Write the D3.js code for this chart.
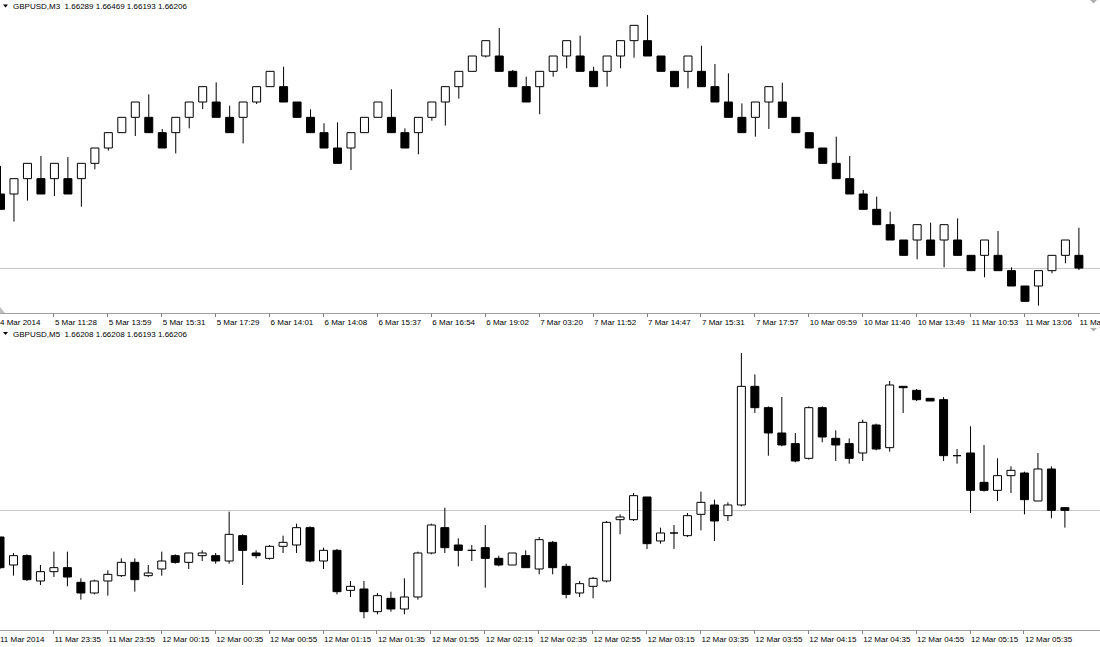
<!DOCTYPE html>
<meta charset="utf-8">
<head>
	<title>GBPUSD M3 / M5</title>
</head>

<style>
  body {
    margin: 0;
    background: #fff;
  }
  svg {
    display: block;
    font-family: "Liberation Sans", Arial, sans-serif;
    font-size: 8px;
  }
  .wick {
    stroke: #000;
    stroke-width: 1px;
  }
  .body {
    stroke: #000;
    stroke-width: 1px;
  }
  .body.up { fill: #fff; }
  .body.down { fill: #000; }
  .bid {
    stroke: #c8c8c8;
    stroke-width: 1px;
  }
  .axisline {
    stroke: #a0a0a0;
    stroke-width: 1px;
  }
  .tick {
    stroke: #808080;
    stroke-width: 1px;
  }
  .title {
    white-space: pre;
  }
</style>

<body>
  <svg width="1100" height="647"></svg>

	<script src="https://cdn.jsdelivr.net/npm/d3@7"></script>

	<script>

    // GBPUSD,M3 (upper chart)
    var m3Open = [1.66689,1.66689,1.66789,1.66789,1.66789,1.66789,1.66789,1.66889,1.66989,1.67089,
      1.67189,1.67189,1.67089,1.67089,1.67189,1.67289,1.67289,1.67189,1.67189,1.67289,
      1.67389,1.67389,1.67289,1.67189,1.67089,1.66989,1.66989,1.67089,1.67189,1.67189,
      1.67089,1.67089,1.67189,1.67289,1.67389,1.67489,1.67589,1.67589,1.67489,1.67389,
      1.67389,1.67489,1.67589,1.67589,1.67489,1.67489,1.67589,1.67689,1.67689,1.67589,
      1.67489,1.67489,1.67489,1.67389,1.67289,1.67189,1.67189,1.67289,1.67289,1.67189,
      1.67089,1.66989,1.66889,1.66789,1.66689,1.66589,1.66489,1.66389,1.66389,1.66389,
      1.66389,1.66389,1.66289,1.66289,1.66289,1.66189,1.66089,1.66089,1.66189,1.66289,
      1.66289];
    var m3High = [1.66872,1.66789,1.66889,1.66937,1.66889,1.66930,1.66889,1.66989,1.67089,1.67189,
      1.67289,1.67339,1.67113,1.67189,1.67289,1.67389,1.67417,1.67265,1.67289,1.67389,
      1.67489,1.67519,1.67289,1.67241,1.67150,1.67156,1.67089,1.67189,1.67289,1.67372,
      1.67117,1.67189,1.67289,1.67389,1.67489,1.67589,1.67689,1.67772,1.67498,1.67454,
      1.67489,1.67589,1.67689,1.67722,1.67519,1.67589,1.67689,1.67789,1.67856,1.67589,
      1.67489,1.67589,1.67656,1.67537,1.67476,1.67280,1.67289,1.67389,1.67415,1.67189,
      1.67089,1.66989,1.67063,1.66937,1.66715,1.66672,1.66574,1.66389,1.66489,1.66502,
      1.66489,1.66530,1.66289,1.66389,1.66448,1.66211,1.66089,1.66189,1.66289,1.66389,
      1.66469];
    var m3Low = [1.66589,1.66509,1.66646,1.66689,1.66676,1.66689,1.66606,1.66850,1.66972,1.67089,
      1.67067,1.67089,1.66989,1.66954,1.67117,1.67243,1.67189,1.67089,1.67019,1.67276,
      1.67389,1.67289,1.67189,1.67089,1.66989,1.66889,1.66846,1.67089,1.67189,1.67089,
      1.66989,1.66948,1.67167,1.67135,1.67311,1.67489,1.67580,1.67489,1.67389,1.67289,
      1.67209,1.67454,1.67509,1.67489,1.67389,1.67389,1.67509,1.67578,1.67589,1.67489,
      1.67389,1.67378,1.67389,1.67289,1.67189,1.67089,1.67063,1.67113,1.67189,1.67089,
      1.66989,1.66889,1.66789,1.66689,1.66589,1.66489,1.66389,1.66289,1.66263,1.66289,
      1.66211,1.66289,1.66189,1.66146,1.66189,1.66089,1.65989,1.65961,1.66172,1.66237,
      1.66193];
    var m3Close = [1.66589,1.66789,1.66889,1.66689,1.66889,1.66689,1.66889,1.66989,1.67089,1.67189,
      1.67289,1.67089,1.66989,1.67189,1.67289,1.67389,1.67189,1.67089,1.67289,1.67389,
      1.67489,1.67289,1.67189,1.67089,1.66989,1.66889,1.67089,1.67189,1.67289,1.67089,
      1.66989,1.67189,1.67289,1.67389,1.67489,1.67589,1.67689,1.67489,1.67389,1.67289,
      1.67489,1.67589,1.67689,1.67489,1.67389,1.67589,1.67689,1.67789,1.67589,1.67489,
      1.67389,1.67589,1.67389,1.67289,1.67189,1.67089,1.67289,1.67389,1.67189,1.67089,
      1.66989,1.66889,1.66789,1.66689,1.66589,1.66489,1.66389,1.66289,1.66489,1.66289,
      1.66489,1.66289,1.66189,1.66389,1.66189,1.66089,1.65989,1.66189,1.66289,1.66389,
      1.66206];
    var m3Dates = ["4 Mar 2014","5 Mar 11:28","5 Mar 13:59","5 Mar 15:31","5 Mar 17:29","6 Mar 14:01",
      "6 Mar 14:08","6 Mar 15:37","6 Mar 16:54","6 Mar 19:02","7 Mar 03:20","7 Mar 11:52",
      "7 Mar 14:47","7 Mar 15:31","7 Mar 17:57","10 Mar 09:59","10 Mar 11:40","10 Mar 13:49",
      "11 Mar 10:53","11 Mar 13:06","11 Mar"];

    // GBPUSD,M5 (lower chart)
    var m5Open = [1.66186,1.66165,1.66172,1.66153,1.66160,1.66163,1.66152,1.66144,1.66153,1.66157,
      1.66167,1.66157,1.66162,1.66172,1.66167,1.66172,1.66172,1.66168,1.66187,1.66174,
      1.66170,1.66179,1.66180,1.66193,1.66168,1.66176,1.66146,1.66147,1.66130,1.66140,
      1.66132,1.66141,1.66174,1.66193,1.66180,1.66176,1.66178,1.66170,1.66165,1.66172,
      1.66162,1.66182,1.66164,1.66144,1.66149,1.66153,1.66199,1.66199,1.66216,1.66183,
      1.66189,1.66187,1.66203,1.66210,1.66202,1.66210,1.66299,1.66283,1.66264,1.66256,
      1.66245,1.66283,1.66260,1.66256,1.66249,1.66270,1.66253,1.66299,1.66296,1.66290,
      1.66289,1.66247,1.66249,1.66227,1.66221,1.66232,1.66234,1.66213,1.66237,1.66208];
    var m5High = [1.66186,1.66174,1.66173,1.66165,1.66175,1.66175,1.66155,1.66154,1.66161,1.66170,
      1.66170,1.66165,1.66175,1.66173,1.66174,1.66176,1.66174,1.66205,1.66188,1.66176,
      1.66180,1.66187,1.66196,1.66194,1.66178,1.66177,1.66153,1.66153,1.66144,1.66145,
      1.66155,1.66175,1.66196,1.66208,1.66185,1.66180,1.66195,1.66172,1.66174,1.66176,
      1.66186,1.66183,1.66166,1.66153,1.66156,1.66198,1.66203,1.66219,1.66216,1.66193,
      1.66195,1.66204,1.66220,1.66214,1.66212,1.66324,1.66308,1.66284,1.66291,1.66264,
      1.66284,1.66284,1.66266,1.66260,1.66274,1.66271,1.66303,1.66299,1.66297,1.66290,
      1.66291,1.66252,1.66269,1.66255,1.66245,1.66239,1.66235,1.66249,1.66239,1.66208];
    var m5Low = [1.66162,1.66157,1.66153,1.66150,1.66156,1.66149,1.66139,1.66143,1.66142,1.66156,
      1.66145,1.66156,1.66157,1.66166,1.66162,1.66168,1.66166,1.66166,1.66150,1.66170,
      1.66169,1.66174,1.66174,1.66167,1.66162,1.66143,1.66141,1.66125,1.66128,1.66130,
      1.66128,1.66139,1.66173,1.66174,1.66164,1.66168,1.66148,1.66164,1.66165,1.66163,
      1.66158,1.66158,1.66140,1.66141,1.66140,1.66152,1.66188,1.66198,1.66177,1.66181,
      1.66177,1.66186,1.66191,1.66183,1.66198,1.66209,1.66279,1.66247,1.66254,1.66242,
      1.66244,1.66257,1.66243,1.66241,1.66243,1.66251,1.66250,1.66279,1.66288,1.66288,
      1.66243,1.66241,1.66204,1.66220,1.66213,1.66219,1.66203,1.66213,1.66200,1.66193];
    var m5Close = [1.66163,1.66172,1.66154,1.66160,1.66163,1.66156,1.66144,1.66153,1.66158,1.66167,
      1.66154,1.66159,1.66168,1.66167,1.66174,1.66174,1.66168,1.66188,1.66176,1.66172,
      1.66179,1.66182,1.66193,1.66168,1.66176,1.66145,1.66149,1.66130,1.66142,1.66132,
      1.66141,1.66174,1.66195,1.66178,1.66176,1.66176,1.66170,1.66165,1.66174,1.66163,
      1.66184,1.66163,1.66143,1.66151,1.66155,1.66197,1.66201,1.66217,1.66181,1.66189,
      1.66189,1.66202,1.66212,1.66198,1.66210,1.66299,1.66283,1.66264,1.66255,1.66243,
      1.66283,1.66261,1.66255,1.66245,1.66272,1.66252,1.66300,1.66298,1.66289,1.66288,
      1.66247,1.66247,1.66221,1.66221,1.66232,1.66236,1.66214,1.66237,1.66206,1.66206];
    var m5Dates = ["11 Mar 2014","11 Mar 23:35","11 Mar 23:55","12 Mar 00:15","12 Mar 00:35",
      "12 Mar 00:55","12 Mar 01:15","12 Mar 01:35","12 Mar 01:55","12 Mar 02:15","12 Mar 02:35",
      "12 Mar 02:55","12 Mar 03:15","12 Mar 03:35","12 Mar 03:55","12 Mar 04:15","12 Mar 04:35",
      "12 Mar 04:55","12 Mar 05:15","12 Mar 05:35"];

    var svg = d3.select("svg");

    var drawChart = function(opt){
      var data = opt.open.map(function(o, i) {
        return {i: i, o: o, h: opt.high[i], l: opt.low[i], c: opt.close[i]};
      });
      var last = data[data.length - 1];

      var x = d3.scaleLinear().domain([0, data.length - 1]).range(opt.xRange);
      var y = d3.scaleLinear().domain(opt.yDomain).range(opt.yRange);

      var g = svg.append("g");

      // header: triangle + symbol and last bar OHLC
      g.append("path")
        .attr("d", "M3," + (opt.titleY - 4.5) + "h5l-2.5,3z")
        .attr("fill", "#000");
      g.append("text")
        .attr("class", "title")
        .attr("x", 13)
        .attr("y", opt.titleY)
        .text(opt.symbol + "  " + [last.o, last.h, last.l, last.c].map(d3.format(".5f")).join(" "));

      // shift marker top right
      g.append("path")
        .attr("d", "M1090," + opt.markY + "h7l-3.5,3.5z")
        .attr("fill", "#b0b0b0");

      // bid line
      g.append("line")
        .attr("class", "bid")
        .attr("x1", 0).attr("x2", 1100)
        .attr("y1", Math.round(y(last.c)) + 0.5)
        .attr("y2", Math.round(y(last.c)) + 0.5);

      // wicks
      g.selectAll(".wick")
        .data(data)
        .enter().append("line")
          .attr("class", "wick")
          .attr("x1", function(d) { return x(d.i); })
          .attr("x2", function(d) { return x(d.i); })
          .attr("y1", function(d) { return y(d.h); })
          .attr("y2", function(d) { return y(d.l); });

      // bodies
      g.selectAll(".body")
        .data(data)
        .enter().append("path")
          .attr("class", function(d) { return "body " + (d.c > d.o ? "up" : "down"); })
          .attr("d", function(d) {
            var x0 = x(d.i) - 4, y0 = y(Math.max(d.o, d.c)), y1 = y(Math.min(d.o, d.c));
            return "M" + x0 + "," + y0 + "h8V" + y1 + "h-8z";
          });

      // time axis
      g.append("line")
        .attr("class", "axisline")
        .attr("x1", 0).attr("x2", 1100)
        .attr("y1", opt.axisY).attr("y2", opt.axisY);

      var ticks = opt.dates.map(function(t, k) { return {k: k * 4, t: t}; });

      g.selectAll(".tick")
        .data(ticks.slice(1))
        .enter().append("line")
          .attr("class", "tick")
          .attr("x1", function(d) { return Math.round(x(d.k) - 1) + 0.5; })
          .attr("x2", function(d) { return Math.round(x(d.k) - 1) + 0.5; })
          .attr("y1", opt.axisY)
          .attr("y2", opt.axisY + 3.5);

      g.selectAll(".tlabel")
        .data(ticks)
        .enter().append("text")
          .attr("class", "tlabel")
          .attr("x", function(d) { return d.k === 0 ? 0 : x(d.k) + 0.5; })
          .attr("y", opt.axisY + 11)
          .text(function(d) { return d.t; });
    };

    drawChart({
      symbol: "GBPUSD,M3",
      open: m3Open, high: m3High, low: m3Low, close: m3Close,
      dates: m3Dates,
      xRange: [0.5, 1078.9],
      yDomain: [1.65889, 1.67889], yRange: [316.67, 10],
      titleY: 9, markY: 0, axisY: 313.5
    });

    drawChart({
      symbol: "GBPUSD,M5",
      open: m5Open, high: m5High, low: m5Low, close: m5Close,
      dates: m5Dates,
      xRange: [0, 1064.9],
      yDomain: [1.66110, 1.66330], yRange: [638.33, 345],
      titleY: 336.5, markY: 328, axisY: 630.5
    });

    // small scroll marker at the left end of the upper time scale
    svg.append("path")
      .attr("d", "M0,307L0,313L5,313z")
      .attr("fill", "#c0c0c0");

	</script>
</body>
</html>
